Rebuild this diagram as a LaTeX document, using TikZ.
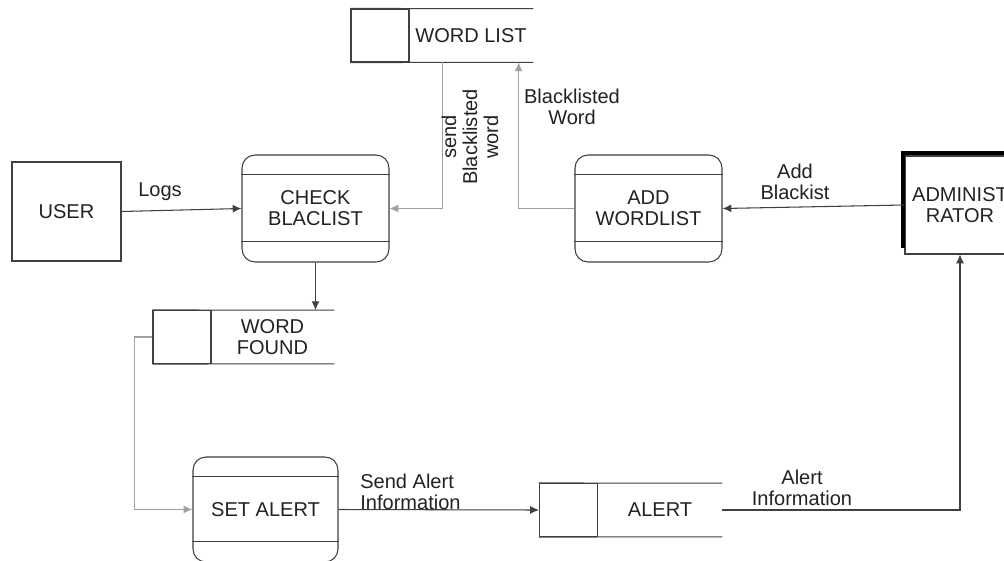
\documentclass[tikz,border=0pt]{standalone}
\usepackage{fontspec}
\setmainfont{Liberation Sans}
\usetikzlibrary{arrows.meta,calc}
\definecolor{edge}{HTML}{404040}
\definecolor{soft}{HTML}{A0A0A0}
\definecolor{ink}{HTML}{222222}
\begin{document}
\begin{tikzpicture}[x=0.02cm,y=0.02cm,
  every node/.style={font=\fontsize{11.4}{12}\selectfont, text=ink, inner sep=0pt},
  procbox/.style={draw=edge, line width=0.6pt, rounded corners=0.26cm, minimum width=2.94cm, minimum height=2.14cm, align=center},
  extbox/.style={draw=edge, line width=0.6pt, minimum width=2.18cm, minimum height=1.98cm, align=center},
  storekey/.style={draw=edge, line width=0.6pt, minimum width=1.16cm, minimum height=1.06cm},
  storebody/.style={minimum height=1.06cm, align=center},
  flow/.style={draw=edge, line width=0.6pt, -{Latex[length=5pt,width=4.5pt]}},
  flowsoft/.style={draw=soft, line width=0.7pt, -{Latex[length=5pt,width=4.5pt]}},
  lbl/.style={align=center}
]
\clip (0,0) rectangle (1004,-561);
\fill[white] (0,0) rectangle (1004,-561);

% external entities
\node[extbox] (user) at (66.5,-211.5) {USER};
\node[extbox, minimum width=2.2cm, minimum height=1.96cm] (adm) at (960,-205) {ADMINIST\\RATOR};
\draw[black, line width=0.08cm] (903,-248) -- (903,-153) -- (1010,-153);

% processes
\node[procbox] (chk) at (315.5,-208.5) {CHECK\\BLACLIST};
\node[procbox] (add) at (648.5,-208.5) {ADD\\WORDLIST};
\node[procbox, minimum width=2.9cm, minimum height=2.1cm] (set) at (265.5,-509.5) {SET ALERT};
\foreach \p in {chk,add,set}{
  \draw[edge, line width=0.6pt] ($(\p.north west)+(0,-20)$) -- ($(\p.north east)+(0,-20)$);
  \draw[edge, line width=0.6pt] ($(\p.south west)+(0,21)$) -- ($(\p.south east)+(0,21)$);
}

% data stores
\node[storekey] (wlk) at (380,-35.5) {};
\node[storebody, minimum width=2.48cm] (wl) at (471,-35.5) {WORD LIST};
\node[storekey] (wfk) at (182,-337) {};
\node[storebody, minimum width=2.46cm] (wf) at (272.5,-337) {WORD\\FOUND};
\node[storekey] (alk) at (568.5,-510) {};
\node[storebody, minimum width=2.48cm] (al) at (660,-510) {ALERT};
\foreach \k/\b in {wlk/wl,wfk/wf,alk/al}{
  \draw[edge, line width=0.6pt] (\k.north west) -- (\b.north east);
  \draw[edge, line width=0.6pt] (\k.south west) -- (\b.south east);
}

% data flows
\draw[flow] (user.east) -- (chk.west);
\node[lbl] (logs) at (160,-192) {Logs};

\draw[flowsoft] ([xshift=0.68cm]wl.south west) |- (chk.east);
\node[lbl, rotate=90, align=center] (sendlbl) at (470,-137) {send\\Blacklisted\\word};

\draw[flowsoft] (add.west) -| ([xshift=2.2cm]wl.south west);
\node[lbl] (bwlbl) at (572,-107) {Blacklisted\\Word};

\draw[flow] (adm.west) -- (add.east);
\node[lbl] (addlbl) at (795,-182) {Add\\Blackist};

\draw[flow] (chk.south) -- (chk.south |- wf.north);

\draw[flowsoft] (wfk.west) -- ++(-18,0) |- (set.west);

\draw[flow] (set.east) -- (alk.west);
\node[lbl, anchor=west, align=left] (salbl) at (360,-492) {Send Alert\\Information};

\draw[flow] (al.east) -| (adm.south);
\node[lbl] (ailbl) at (802,-488) {Alert\\Information};
\end{tikzpicture}
\end{document}
